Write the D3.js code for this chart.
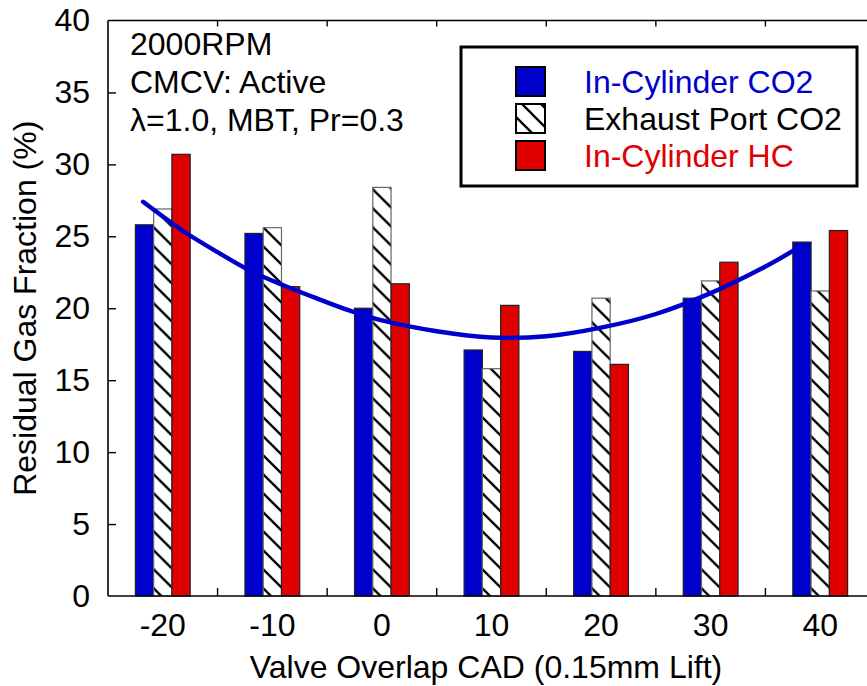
<!DOCTYPE html>
<html>
<head>
<meta charset="utf-8">
<script src="https://cdn.jsdelivr.net/npm/d3@7"></script>
<style>
  html, body { margin: 0; padding: 0; background: #fff; }
  svg { display: block; }
  text { font-family: "Liberation Sans", Arial, sans-serif; }
</style>
</head>
<body>
<svg id="chart" width="867" height="686"></svg>
<script>
// Valve overlap settings (CAD at 0.15 mm lift)
const overlaps = [-20, -10, 0, 10, 20, 30, 40];

// Residual gas fraction (%) per method
const inCylCO2 = [25.8, 25.2, 20.0, 17.1, 17.0, 20.7, 24.6];
const exhaustCO2 = [26.9, 25.6, 28.4, 15.8, 20.7, 21.9, 21.2];
const inCylHC = [30.7, 21.5, 21.7, 20.2, 16.1, 23.2, 25.4];

const seriesNames = ["In-Cylinder CO2", "Exhaust Port CO2", "In-Cylinder HC"];

// Trend line through the in-cylinder CO2 results: [overlap, fraction]
const trendX = [-21.8, -18, -15, -12, -9, -6, -3, 0, 5, 10, 15, 20, 25, 30, 35, 37.7];
const trendY = [27.4, 25.3, 23.9, 22.6, 21.6, 20.7, 19.85, 19.15, 18.4, 17.97, 18.05, 18.65, 19.6, 21.05, 22.9, 24.07];

const yTicks = [0, 5, 10, 15, 20, 25, 30, 35, 40];
const notes = ["2000RPM", "CMCV: Active", "\u03BB=1.0, MBT, Pr=0.3"];

const BLUE = "#0000cc";
const RED = "#e00000";
const FONT = 32;

const svg = d3.select("#chart");

// Plot frame (runs past the right edge of the page)
const plotL = 108, plotR = 875, plotT = 20.5, plotB = 596;

const x0 = d3.scaleBand()
  .domain(overlaps)
  .range([plotL, plotR])
  .paddingInner(0.5)
  .paddingOuter(0.25);

const x1 = d3.scaleBand()
  .domain(seriesNames)
  .range([0, x0.bandwidth()]);

const y = d3.scaleLinear().domain([0, 40]).range([plotB, plotT]);

const xc = d3.scaleLinear()
  .domain([overlaps[0], overlaps[overlaps.length - 1]])
  .range([x0(overlaps[0]) + x0.bandwidth() / 2,
          x0(overlaps[overlaps.length - 1]) + x0.bandwidth() / 2]);

// Hatch fill for the exhaust port series
const defs = svg.append("defs");
const pat = defs.append("pattern")
  .attr("id", "hatch")
  .attr("patternUnits", "userSpaceOnUse")
  .attr("width", 19).attr("height", 19);
pat.append("rect").attr("width", 19).attr("height", 19).attr("fill", "#fff");
pat.append("path")
  .attr("d", "M0,0 L19,19 M-3,16 L3,22 M16,-3 L22,3")
  .attr("stroke", "#000").attr("stroke-width", 2.3);

const fills = [BLUE, "url(#hatch)", RED];
const rows = overlaps.map((o, i) => ({
  overlap: o,
  values: [inCylCO2[i], exhaustCO2[i], inCylHC[i]]
}));

// Bars
const groups = svg.append("g").selectAll("g")
  .data(rows).join("g")
  .attr("transform", d => `translate(${x0(d.overlap)},0)`);

groups.selectAll("rect")
  .data(d => d.values.map((v, k) => ({ name: seriesNames[k], value: v, k })))
  .join("rect")
  .attr("x", d => x1(d.name))
  .attr("y", d => y(d.value))
  .attr("width", x1.bandwidth())
  .attr("height", d => y(0) - y(d.value))
  .attr("fill", d => fills[d.k])
  .attr("stroke", d => d.k === 1 ? "#666" : "#222")
  .attr("stroke-width", 1.2);

// Trend curve
const line = d3.line()
  .x(d => xc(d[0]))
  .y(d => y(d[1]))
  .curve(d3.curveCatmullRom.alpha(0.5));

svg.append("path")
  .datum(trendX.map((v, i) => [v, trendY[i]]))
  .attr("d", line)
  .attr("fill", "none")
  .attr("stroke", BLUE)
  .attr("stroke-width", 4.4)
  .attr("stroke-linecap", "round");

// Frame
const frame = svg.append("g").attr("stroke", "#000").attr("stroke-width", 1.6).attr("fill", "none");
frame.append("line").attr("x1", plotL).attr("x2", plotL).attr("y1", plotT).attr("y2", plotB);
frame.append("line").attr("x1", plotL).attr("x2", 867).attr("y1", plotB).attr("y2", plotB);
frame.append("line").attr("x1", plotL).attr("x2", 867).attr("y1", plotT).attr("y2", plotT);

// Y axis: inward ticks, labels outside
const yAxis = d3.axisLeft(y).tickValues(yTicks).tickSizeInner(-8).tickSizeOuter(0).tickPadding(18);
const ya = svg.append("g").attr("transform", `translate(${plotL},0)`).call(yAxis);
ya.select(".domain").remove();
ya.selectAll(".tick line").attr("stroke", "#000").attr("stroke-width", 1.4)
  .filter(d => d === 0 || d === 40).remove();
ya.selectAll(".tick text")
  .attr("font-size", FONT).attr("fill", "#000")
  .attr("font-family", '"Liberation Sans", Arial, sans-serif');

// X axis: labels at group centres, ticks between groups
const xa = svg.append("g").attr("transform", `translate(0,${plotB})`)
  .call(d3.axisBottom(x0).tickSize(0).tickPadding(17));
xa.select(".domain").remove();
xa.selectAll(".tick text")
  .attr("font-size", FONT).attr("fill", "#000")
  .attr("font-family", '"Liberation Sans", Arial, sans-serif');

const gap = (x0.step() - x0.bandwidth()) / 2;
const between = overlaps.slice(1).map(o => x0(o) - gap);
const tk = svg.append("g").attr("stroke", "#000").attr("stroke-width", 1.4);
between.forEach(bx => {
  tk.append("line").attr("x1", bx).attr("x2", bx).attr("y1", plotB).attr("y2", plotB - 8);
  tk.append("line").attr("x1", bx).attr("x2", bx).attr("y1", plotT).attr("y2", plotT + 6);
});

// Axis titles
svg.append("text")
  .attr("x", 486).attr("y", 678)
  .attr("text-anchor", "middle")
  .attr("font-size", FONT)
  .text("Valve Overlap CAD (0.15mm Lift)");

svg.append("text")
  .attr("transform", `translate(36,${(plotT + plotB) / 2}) rotate(-90)`)
  .attr("text-anchor", "middle")
  .attr("font-size", FONT)
  .text("Residual Gas Fraction (%)");

// Operating condition notes
svg.append("g").selectAll("text")
  .data(notes).join("text")
  .attr("x", 130)
  .attr("y", (d, i) => 55 + i * 38)
  .attr("font-size", FONT)
  .text(d => d);

// Legend
const lg = svg.append("g");
lg.append("rect")
  .attr("x", 461).attr("y", 47).attr("width", 396).attr("height", 139)
  .attr("fill", "#fff").attr("stroke", "#000").attr("stroke-width", 3);
const legColors = [BLUE, "#000", RED];
seriesNames.forEach((name, i) => {
  const yy = 67 + i * 37;
  lg.append("rect")
    .attr("x", 516).attr("y", yy).attr("width", 29).attr("height", 29)
    .attr("fill", fills[i]).attr("stroke", "#000").attr("stroke-width", 2);
  lg.append("text")
    .attr("x", 584).attr("y", yy + 26)
    .attr("font-size", FONT)
    .attr("fill", legColors[i])
    .text(name);
});
</script>
</body>
</html>
